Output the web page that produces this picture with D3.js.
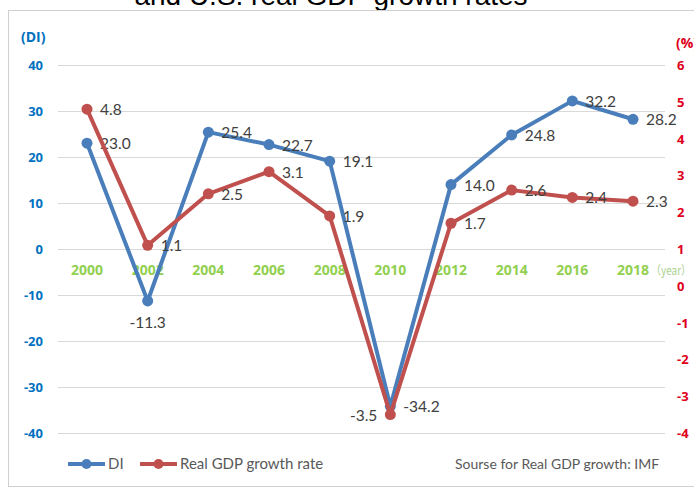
<!DOCTYPE html>
<html>
<head>
<meta charset="utf-8">
<script src="https://cdn.jsdelivr.net/npm/d3@7"></script>
<style>
  body { margin: 0; background: #fff; }
  svg { display: block; }
</style>
</head>
<body>
<script>
// values
const years = [2000, 2002, 2004, 2006, 2008, 2010, 2012, 2014, 2016, 2018];
const diValues = [23.0, -11.3, 25.4, 22.7, 19.1, -34.2, 14.0, 24.8, 32.2, 28.2];
const gdpValues = [4.8, 1.1, 2.5, 3.1, 1.9, -3.5, 1.7, 2.6, 2.4, 2.3];
const diTicks = [40, 30, 20, 10, 0, -10, -20, -30, -40];
const gdpTicks = [6, 5, 4, 3, 2, 1, 0, -1, -2, -3, -4];
// label side for each point: r = right, b = below, l = left
const diLabelPos = ["r", "b", "r", "r", "r", "r", "r", "r", "r", "r"];
const gdpLabelPos = ["r", "r", "r", "r", "r", "l", "r", "r", "r", "r"];

const width = 694;
const height = 489;
const blue = "#4a7ebb";
const red = "#c0504d";

const svg = d3.select("body").append("svg")
    .attr("width", width)
    .attr("height", height);

// title, mostly cut off at the top
svg.append("text")
    .attr("x", 331)
    .attr("y", 5)
    .attr("text-anchor", "middle")
    .attr("font-family", "Liberation Sans, Arial, sans-serif")
    .attr("font-size", 28)
    .attr("fill", "#000")
    .text("and U.S. real GDP growth rates");

// chart frame
svg.append("rect")
    .attr("x", 8.5).attr("y", 10.5)
    .attr("width", 700).attr("height", 476)
    .attr("fill", "#fff")
    .attr("stroke", "#d0d0d0");

const x = d3.scaleLinear().domain([2000, 2018]).range([87, 633]);
const yL = d3.scaleLinear().domain([-40, 40]).range([433, 65]);
const yR = d3.scaleLinear().domain([-4, 6]).range([433, 65]);

// grid lines
svg.append("g").selectAll("line")
    .data(diTicks)
    .join("line")
    .attr("x1", 58).attr("x2", 665)
    .attr("y1", d => Math.round(yL(d)) + 0.5)
    .attr("y2", d => Math.round(yL(d)) + 0.5)
    .attr("stroke", "#d9d9d9")
    .attr("stroke-width", 1);

// left axis labels
svg.append("g").selectAll("text")
    .data(diTicks)
    .join("text")
    .attr("x", 43)
    .attr("y", d => yL(d) + 5)
    .attr("text-anchor", "end")
    .attr("font-family", "Open Sans, sans-serif")
    .attr("font-weight", "bold")
    .attr("font-size", 13)
    .attr("fill", "#0070c0")
    .text(d => d);

// right axis labels
svg.append("g").selectAll("text")
    .data(gdpTicks)
    .join("text")
    .attr("x", 677)
    .attr("y", d => yR(d) + 5)
    .attr("font-family", "Open Sans, sans-serif")
    .attr("font-weight", "bold")
    .attr("font-size", 13)
    .attr("fill", "#e0001b")
    .text(d => d);

svg.append("text")
    .attr("x", 21).attr("y", 42)
    .attr("font-family", "Open Sans, sans-serif")
    .attr("font-weight", "bold")
    .attr("font-size", 14)
    .attr("fill", "#0070c0")
    .text("(DI)");

svg.append("text")
    .attr("x", 676).attr("y", 48)
    .attr("font-family", "Open Sans, sans-serif")
    .attr("font-weight", "bold")
    .attr("font-size", 14)
    .attr("fill", "#e0001b")
    .text("(%)");

// year labels sit on the zero line
svg.append("g").selectAll("text")
    .data(years)
    .join("text")
    .attr("x", d => x(d))
    .attr("y", 275)
    .attr("text-anchor", "middle")
    .attr("font-family", "Open Sans, sans-serif")
    .attr("font-weight", "bold")
    .attr("font-size", 14)
    .attr("fill", "#92d050")
    .text(d => d);

svg.append("text")
    .attr("x", 651).attr("y", 275)
    .attr("font-family", "Noto Sans CJK JP, sans-serif")
    .attr("font-size", 12)
    .attr("textLength", 40)
    .attr("lengthAdjust", "spacingAndGlyphs")
    .attr("fill", "#a9d18e")
    .text("（year）");

function drawSeries(values, yScale, color, labelPos) {
    const pts = years.map((yr, i) => ({ year: yr, v: values[i], pos: labelPos[i] }));
    const line = d3.line().x(d => x(d.year)).y(d => yScale(d.v));
    svg.append("path")
        .datum(pts)
        .attr("d", line)
        .attr("fill", "none")
        .attr("stroke", color)
        .attr("stroke-width", 4)
        .attr("stroke-linejoin", "round");
    svg.append("g").selectAll("circle")
        .data(pts)
        .join("circle")
        .attr("cx", d => x(d.year))
        .attr("cy", d => yScale(d.v))
        .attr("r", 5.5)
        .attr("fill", color);
    svg.append("g").selectAll("text")
        .data(pts)
        .join("text")
        .attr("x", d => d.pos === "r" ? x(d.year) + 13 : d.pos === "l" ? x(d.year) - 13 : x(d.year))
        .attr("y", d => d.pos === "b" ? yScale(d.v) + 27 : yScale(d.v) + 6)
        .attr("text-anchor", d => d.pos === "r" ? "start" : d.pos === "l" ? "end" : "middle")
        .attr("font-family", "Lato, sans-serif")
        .attr("font-size", 15.5)
        .attr("fill", "#404040")
        .text(d => d.v.toFixed(1));
}

drawSeries(diValues, yL, blue, diLabelPos);
drawSeries(gdpValues, yR, red, gdpLabelPos);

// legend
const legend = [
    { name: "DI", color: blue, x: 68 },
    { name: "Real GDP growth rate", color: red, x: 140 }
];
const lg = svg.append("g").selectAll("g")
    .data(legend)
    .join("g")
    .attr("transform", d => `translate(${d.x},464)`);
lg.append("line")
    .attr("x1", 0).attr("x2", 37)
    .attr("stroke", d => d.color)
    .attr("stroke-width", 4);
lg.append("circle")
    .attr("cx", 18.5).attr("r", 5)
    .attr("fill", d => d.color);
lg.append("text")
    .attr("x", 40).attr("y", 5)
    .attr("font-family", "Lato, sans-serif")
    .attr("font-size", 15)
    .attr("fill", "#595959")
    .text(d => d.name);

svg.append("text")
    .attr("x", 455).attr("y", 469)
    .attr("font-family", "Lato, sans-serif")
    .attr("font-size", 14)
    .attr("fill", "#595959")
    .text("Sourse for Real GDP growth: IMF");
</script>
</body>
</html>
